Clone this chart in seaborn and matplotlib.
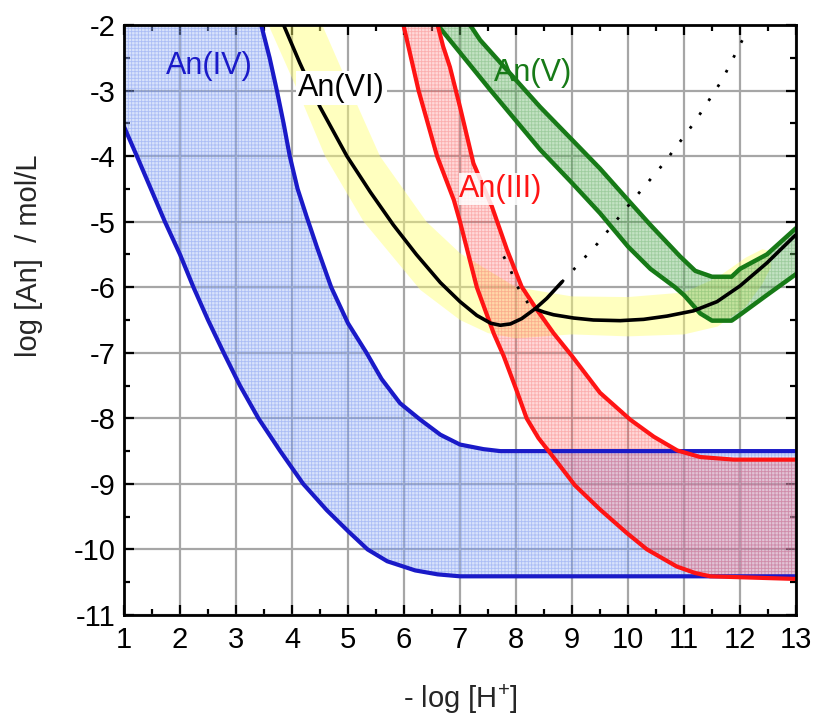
import matplotlib
matplotlib.use("Agg")
import matplotlib.pyplot as plt
import seaborn as sns

# Axis ranges: -log[H+] and log[An]
X_MIN, X_MAX = 1, 13
Y_MIN, Y_MAX = -11, -2

# An(IV) solubility band
an4_low_x = [1.0, 1.23, 1.48, 1.73, 2.0, 2.24, 2.5, 2.78, 3.07, 3.4, 3.79, 4.2, 4.62, 5.0, 5.35,
             5.7, 6.2, 6.6, 7.0, 13.0]
an4_low_y = [-3.55, -4.0, -4.5, -5.0, -5.5, -6.0, -6.5, -7.0, -7.5, -8.0, -8.5, -9.0, -9.4, -9.72, -10.0,
             -10.18, -10.32, -10.38, -10.41, -10.41]
an4_up_x = [3.45, 3.6, 3.73, 3.85, 3.96, 4.1, 4.26, 4.45, 4.7, 5.0, 5.33, 5.6, 5.93, 6.29, 6.65,
            7.0, 7.42, 7.72, 13.0]
an4_up_y = [-2.0, -2.5, -3.0, -3.5, -4.0, -4.5, -4.92, -5.4, -6.0, -6.55, -7.0, -7.4, -7.77, -8.02, -8.25,
            -8.4, -8.47, -8.5, -8.5]

# An(III) solubility band
an3_low_x = [5.99, 6.26, 6.59, 6.89, 7.0, 7.3, 7.6, 7.78, 8.0, 8.19, 8.4, 8.61, 9.05, 9.5, 9.98,
             10.34, 10.87, 11.2, 11.47, 13.0]
an3_low_y = [-2.0, -3.0, -4.0, -4.67, -5.0, -6.0, -6.7, -7.05, -7.55, -8.0, -8.3, -8.53, -9.02, -9.39, -9.75,
             -10.0, -10.26, -10.36, -10.41, -10.45]
an3_up_x = [6.6, 6.7, 6.82, 7.0, 7.24, 7.57, 7.84, 8.1, 8.37, 8.67, 9.0, 9.5, 10.04, 10.46, 10.88,
            11.29, 11.89, 13.0]
an3_up_y = [-2.0, -2.33, -2.64, -3.25, -4.11, -4.77, -5.43, -5.99, -6.34, -6.7, -7.05, -7.61, -8.02, -8.28, -8.49,
            -8.59, -8.63, -8.63]

# An(V) solubility band
an5_low_x = [6.6, 7.55, 8.43, 9.0, 9.5, 10.0, 10.4, 10.84, 11.0, 11.29, 11.5, 11.85, 12.0, 12.48, 13.0]
an5_low_y = [-2.0, -3.0, -3.9, -4.41, -4.87, -5.38, -5.72, -6.0, -6.12, -6.4, -6.51, -6.51, -6.42, -6.12, -5.8]
an5_up_x = [7.18, 7.36, 8.43, 9.0, 9.5, 10.0, 10.4, 10.93, 11.2, 11.5, 11.85, 12.0, 12.48, 13.0]
an5_up_y = [-2.0, -2.23, -3.25, -3.75, -4.19, -4.67, -5.05, -5.53, -5.75, -5.84, -5.84, -5.72, -5.5, -5.1]

# An(VI) uncertainty band
an6_band_low_x = [3.58, 4.1, 4.59, 5.28, 6.29, 7.0, 7.5, 8.0, 9.0, 10.0, 11.0, 11.6, 12.1, 12.4, 12.55]
an6_band_low_y = [-2.0, -3.0, -4.0, -5.0, -6.04, -6.5, -6.7, -6.78, -6.72, -6.75, -6.72, -6.6, -6.3, -5.95, -5.7]
an6_band_up_x = [4.54, 5.05, 5.57, 6.4, 7.0, 8.0, 9.0, 10.0, 11.0, 11.6, 12.1, 12.4, 12.55]
an6_band_up_y = [-2.0, -3.0, -4.0, -5.0, -5.48, -6.0, -6.14, -6.15, -6.08, -5.85, -5.55, -5.42, -5.45]

# An(VI) model curves (solid parts and dotted continuations)
an6_a_x = [3.85, 4.14, 4.5, 4.98, 5.4, 5.81, 6.22, 6.65, 7.0, 7.3, 7.55, 7.72, 7.9, 8.1, 8.34, 8.55, 8.82]
an6_a_y = [-2.0, -2.58, -3.25, -4.0, -4.55, -5.05, -5.5, -5.93, -6.22, -6.43, -6.55, -6.58, -6.56, -6.48,
           -6.33, -6.17, -5.92]
an6_a_dot_x = [8.82, 9.03, 9.46, 10.04, 10.64, 11.2, 11.68, 12.06]
an6_a_dot_y = [-5.92, -5.73, -5.33, -4.72, -4.11, -3.47, -2.84, -2.2]
an6_b_dot_x = [7.78, 7.9, 7.99, 8.13, 8.22, 8.34]
an6_b_dot_y = [-5.53, -5.73, -5.94, -6.14, -6.25, -6.33]
an6_b_x = [8.34, 8.5, 8.67, 9.03, 9.38, 9.86, 10.28, 10.7, 11.17, 11.59, 12.0, 12.48, 12.96, 13.0]
an6_b_y = [-6.33, -6.38, -6.42, -6.47, -6.5, -6.51, -6.49, -6.44, -6.36, -6.22, -5.98, -5.63, -5.23, -5.2]

x_ticks = list(range(1, 14))
y_ticks = list(range(-11, -1))

BLUE = "#1a1ac8"
RED = "#ff1414"
GREEN = "#177a17"
FONT = ["Liberation Sans", "DejaVu Sans"]

sns.set_theme(style="ticks")
plt.rcParams["font.family"] = FONT
plt.rcParams["hatch.linewidth"] = 0.6

fig = plt.figure(figsize=(8.16, 7.19), dpi=100)
ax = fig.add_axes([124 / 816, 1 - 615 / 719, 672 / 816, 590 / 719])


def band(lx, ly, ux, uy, face, hatch_col, extra_x=(), extra_y=(), hatch="+++++", z=1.0):
    px = list(lx) + list(ux)[::-1] + list(extra_x)
    py = list(ly) + list(uy)[::-1] + list(extra_y)
    ax.fill(px, py, facecolor=face, edgecolor=hatch_col, linewidth=0,
            hatch=hatch, zorder=z)


def curve(x, y, color, lw=3.0, ls="-", z=3.0):
    sns.lineplot(x=x, y=y, ax=ax, color=color, linewidth=lw, linestyle=ls,
                 sort=False, estimator=None, zorder=z, legend=False)


# Yellow An(VI) band underneath
ax.fill(an6_band_low_x + an6_band_up_x[::-1], an6_band_low_y + an6_band_up_y[::-1],
        facecolor=(1.0, 1.0, 0.45, 0.45), edgecolor="none", linewidth=0, zorder=0.8)

# Hatched solubility bands
band(an4_low_x, an4_low_y, an4_up_x, an4_up_y,
     (0.62, 0.72, 0.97, 0.4), (0.35, 0.48, 0.92, 0.35),
     extra_x=[X_MIN], extra_y=[Y_MAX], z=1.0)
band(an5_low_x, an5_low_y, an5_up_x, an5_up_y,
     (0.42, 0.72, 0.42, 0.4), (0.2, 0.55, 0.2, 0.25), z=1.1)
band(an3_low_x, an3_low_y, an3_up_x, an3_up_y,
     (1.0, 0.45, 0.45, 0.28), (0.95, 0.3, 0.3, 0.3), z=1.2)

# Boundary lines
curve(an4_low_x, an4_low_y, BLUE)
curve(an4_up_x, an4_up_y, BLUE)
curve(an5_low_x, an5_low_y, GREEN, lw=3.2)
curve(an5_up_x, an5_up_y, GREEN, lw=3.2)
curve(an3_low_x, an3_low_y, RED, z=3.2)
curve(an3_up_x, an3_up_y, RED, z=3.2)

# An(VI) curves
curve(an6_a_x, an6_a_y, "black", lw=2.6, z=3.4)
curve(an6_b_x, an6_b_y, "black", lw=2.6, z=3.4)
curve(an6_a_dot_x, an6_a_dot_y, "black", lw=2.0, ls=(0, (1, 5)), z=3.4)
curve(an6_b_dot_x, an6_b_dot_y, "black", lw=2.0, ls=(0, (1, 5)), z=3.4)

# Species labels
lab_kw = dict(fontsize=22, ha="center", va="center", family=FONT)
ax.text(2.52, -2.63, "An(IV)", color=BLUE, zorder=5, **lab_kw)
ax.text(4.88, -2.96, "An(VI)", color="black", zorder=5,
        bbox=dict(facecolor="white", edgecolor="none", pad=1.5), **lab_kw)
ax.text(8.3, -2.73, "An(V)", color=GREEN, zorder=5, **lab_kw)
ax.text(7.73, -4.5, "An(III)", color=RED, zorder=5,
        bbox=dict(facecolor="white", edgecolor="none", pad=0.5, alpha=0.85), **lab_kw)

# Axes styling
ax.set_xlim(X_MIN, X_MAX)
ax.set_ylim(Y_MIN, Y_MAX)
ax.set_xticks(x_ticks)
ax.set_yticks(y_ticks)
ax.set_xticks([t + 0.5 for t in x_ticks[:-1]], minor=True)
ax.set_yticks([t + 0.5 for t in y_ticks[:-1]], minor=True)
ax.set_xticklabels([str(t) for t in x_ticks])
ax.set_yticklabels([str(t) for t in y_ticks])
ax.grid(True, which="major", color="#a6a6a6", linewidth=1.6, zorder=0.5)
ax.set_axisbelow(True)
ax.set_facecolor("white")
for side in ax.spines.values():
    side.set_visible(True)
    side.set_color("black")
    side.set_linewidth(2.0)
    side.set_zorder(6)
ax.tick_params(which="both", direction="in", top=True, right=True, colors="black",
               width=1.6, labelsize=21)
ax.tick_params(which="major", length=7)
ax.tick_params(which="minor", length=4)
ax.tick_params(axis="x", which="major", pad=8)
ax.tick_params(axis="y", which="major", pad=6)

ax.set_xlabel("- log [H$^{\\mathregular{+}}$]", fontsize=21, va="center")
ax.xaxis.set_label_coords(0.5, -0.142)
ax.set_ylabel("log [An]  / mol/L", fontsize=21, va="center", ha="center")
ax.yaxis.set_label_coords(-0.142, 0.609)

fig.savefig("out.png", dpi=100, facecolor="white")
